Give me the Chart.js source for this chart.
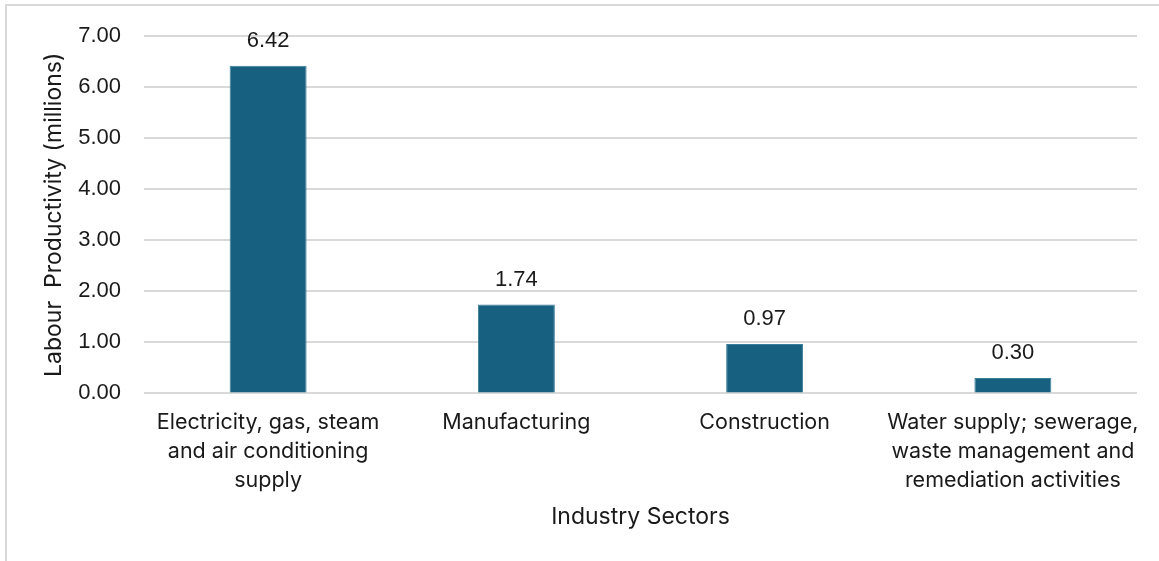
<!DOCTYPE html>
<html>
<head>
<meta charset="utf-8">
<script src="https://cdn.jsdelivr.net/npm/chart.js@4.4.1/dist/chart.umd.min.js"></script>
<style>
  body { margin: 0; background: #fff; }
  #frame { position: absolute; left: 5px; top: 4px; width: 1160px; height: 570px; border: 2px solid #d9d9d9; box-sizing: border-box; }
  #wrap { position: absolute; left: 0; top: 0; width: 1159px; height: 561px; }
</style>
</head>
<body>
<div id="frame"></div>
<div id="wrap"><canvas id="productivityChart" width="1159" height="561"></canvas></div>
<script>
// data
const sectors = [
    ['Electricity, gas, steam', 'and air conditioning', 'supply'],
    'Manufacturing',
    'Construction',
    ['Water supply; sewerage,', 'waste management and', 'remediation activities'],
];
const productivity = [6.42, 1.74, 0.97, 0.30];
const yTicks = [0, 1, 2, 3, 4, 5, 6, 7];

const barColor = '#17607f';
const textColor = '#1a1a1a';
const labelFont = "Inter, 'Noto Sans', sans-serif";
const numberFont = "'Liberation Sans', Arial, sans-serif";

// draws the value above each bar (no datalabels plugin offline)
const valueLabels = {
    id: 'valueLabels',
    afterDatasetsDraw(chart) {
        const ctx = chart.ctx;
        const meta = chart.getDatasetMeta(0);
        ctx.save();
        ctx.font = '22px ' + numberFont;
        ctx.fillStyle = textColor;
        ctx.textAlign = 'center';
        ctx.textBaseline = 'middle';
        meta.data.forEach((bar, i) => {
            ctx.fillText(productivity[i].toFixed(2), bar.x, bar.y - 25);
        });
        ctx.restore();
    }
};

const ctx = document.getElementById('productivityChart').getContext('2d');
const chart = new Chart(ctx, {
    type: 'bar',
    data: {
        labels: sectors,
        datasets: [{
            label: 'Labour Productivity',
            data: productivity,
            backgroundColor: barColor,
            borderColor: '#3a7d9a',
            borderWidth: 1,
            categoryPercentage: 1,
            barPercentage: 0.31,
        }],
    },
    options: {
        responsive: false,
        animation: false,
        layout: { autoPadding: false, padding: { left: 40, right: 22, top: 33, bottom: 30 } },
        plugins: {
            legend: { display: false },
            tooltip: { enabled: false },
        },
        scales: {
            x: {
                grid: { display: false },
                border: { display: false },
                ticks: {
                    color: textColor,
                    font: { family: labelFont, size: 21.5, lineHeight: 29 / 21.5 },
                    padding: 7,
                    maxRotation: 0,
                    autoSkip: false,
                },
                title: {
                    display: true,
                    text: 'Industry Sectors',
                    color: textColor,
                    font: { family: labelFont, size: 23 },
                    padding: { top: 1, bottom: 0 },
                },
            },
            y: {
                min: 0,
                max: 7,
                afterBuildTicks: axis => { axis.ticks = yTicks.map(v => ({ value: v })); },
                afterFit: axis => { axis.width = 104; },
                grid: { color: '#d9d9d9', lineWidth: 2, drawTicks: false },
                border: { display: false },
                ticks: {
                    color: textColor,
                    font: { family: numberFont, size: 22 },
                    padding: 23,
                    callback: v => v.toFixed(2),
                },
                title: {
                    display: true,
                    text: 'Labour  Productivity (millions)',
                    color: textColor,
                    font: { family: labelFont, size: 23 },
                    padding: { top: 0, bottom: 12 },
                },
            },
        },
    },
    plugins: [valueLabels],
});
</script>
</body>
</html>
